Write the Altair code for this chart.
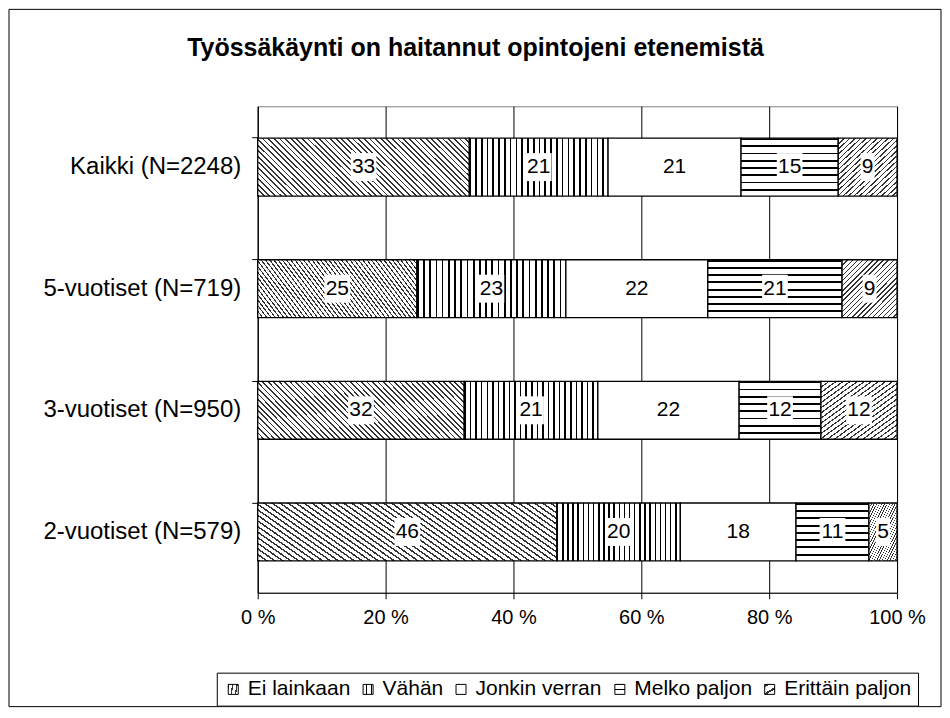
import altair as alt
import pandas as pd

# ---------------- data ----------------
groups = ["Kaikki (N=2248)", "5-vuotiset (N=719)", "3-vuotiset (N=950)", "2-vuotiset (N=579)"]
responses = ["Ei lainkaan", "Vähän", "Jonkin verran", "Melko paljon", "Erittäin paljon"]

kaikki = [33.1, 21.7, 20.8, 15.2, 9.2]
vuotiset5 = [24.9, 23.3, 22.2, 21.0, 8.6]
vuotiset3 = [32.3, 20.9, 22.1, 12.8, 11.9]
vuotiset2 = [46.8, 19.3, 18.1, 11.4, 4.4]

labels_kaikki = ["33", "21", "21", "15", "9"]
labels_5 = ["25", "23", "22", "21", "9"]
labels_3 = ["32", "21", "22", "12", "12"]
labels_2 = ["46", "20", "18", "11", "5"]

title_text = "Työssäkäynti on haitannut opintojeni etenemistä"

rows = []
for g, vals, labs in zip(groups, [kaikki, vuotiset5, vuotiset3, vuotiset2],
                         [labels_kaikki, labels_5, labels_3, labels_2]):
    for i, (r, v, l) in enumerate(zip(responses, vals, labs)):
        rows.append({"group": g, "response": r, "share": v, "label": l, "order": i})
df = pd.DataFrame(rows)

FONT = "Liberation Sans"


# ------------- hatch patterns as striped gradients -------------
def stripes(n, frac, x1, y1, x2, y2, ink="black", paper="white"):
    stops = []
    for i in range(n):
        a = i / n
        b = (i + frac) / n
        c = (i + 1) / n
        stops += [(a, ink), (b, ink), (b, paper), (c, paper)]
    s = ",".join("{offset:%.5f,color:'%s'}" % (o, col) for o, col in stops)
    return {"expr": "{gradient:'linear',x1:%g,y1:%g,x2:%g,y2:%g,stops:[%s]}" % (x1, y1, x2, y2, s)}


pat_ei = stripes(48, 0.32, 0, 1, 1.186, 0.673, ink="#333333")   # "\" dense diagonal
pat_vahan = stripes(24, 0.28, 0, 0, 1, 0)                        # vertical lines
pat_jonkin = "white"
pat_melko = stripes(8, 0.26, 0, 0, 0, 1)                         # horizontal lines
pat_eritt = stripes(22, 0.28, 0, 0, 0.976, 1.025, ink="#333333") # "/" diagonal

fill_scale = alt.Scale(domain=responses,
                       range=[pat_ei, pat_vahan, pat_jonkin, pat_melko, pat_eritt])

base = alt.Chart(df).transform_stack(
    stack="share", groupby=["group"], as_=["x0", "x1"],
    sort=[alt.SortField("order", order="ascending")], offset="normalize"
).transform_calculate(mid="(datum.x0 + datum.x1) / 2")

y_enc = alt.Y(
    "group:N", sort=groups, title=None,
    scale=alt.Scale(paddingInner=0.524, paddingOuter=0.262),
    axis=alt.Axis(bandPosition=0, domainColor="black", tickColor="black", tickSize=6,
                  labelFont=FONT, labelFontSize=24, labelColor="black", labelPadding=11,
                  labelLimit=400, grid=False),
)

bars = base.mark_bar(stroke="black", strokeWidth=1.3, opacity=1).encode(
    y=y_enc,
    x=alt.X("x0:Q", title=None, scale=alt.Scale(domain=[0, 1], nice=False),
            axis=alt.Axis(values=[0, 0.2, 0.4, 0.6, 0.8, 1.0],
                          labelExpr="round(datum.value*100) + ' %'",
                          labelFlush=False,
                          grid=True, gridColor="black", gridWidth=1, gridOpacity=1,
                          domainColor="black", tickColor="black", tickSize=6,
                          labelFont=FONT, labelFontSize=20, labelColor="black",
                          labelPadding=9)),
    x2="x1:Q",
    fill=alt.Fill("response:N", scale=fill_scale, sort=responses,
                  legend=alt.Legend(
                      title=None, orient="none", legendX=-41, legendY=567,
                      direction="horizontal", columns=5,
                      symbolType="square", symbolSize=100,
                      symbolStrokeColor="black", symbolStrokeWidth=1, symbolOpacity=1,
                      labelFont=FONT, labelFontSize=21, labelColor="black",
                      labelOffset=4, columnPadding=7,
                      strokeColor="black", fillColor="white", padding=6)),
)

box2 = base.transform_filter("length(datum.label) > 1").mark_point(
    shape="M-0.46,-0.5L0.46,-0.5L0.46,0.5L-0.46,0.5Z",
    filled=True, fill="white", opacity=1, strokeWidth=0, size=3136
).encode(y=alt.Y("group:N", sort=groups), x="mid:Q")

box1 = base.transform_filter("length(datum.label) == 1").mark_point(
    shape="M-0.25,-0.5L0.25,-0.5L0.25,0.5L-0.25,0.5Z",
    filled=True, fill="white", opacity=1, strokeWidth=0, size=3136
).encode(y=alt.Y("group:N", sort=groups), x="mid:Q")

texts = base.mark_text(font=FONT, fontSize=21, color="black", baseline="middle",
                       align="center").encode(
    y=alt.Y("group:N", sort=groups), x="mid:Q", text="label:N")

title = alt.Chart(pd.DataFrame({"t": [title_text]})).mark_text(
    font=FONT, fontSize=25, fontWeight="bold", color="black",
    align="center", baseline="middle"
).encode(text="t:N", x=alt.value(218), y=alt.value(-58))

frame = alt.Chart(pd.DataFrame({"a": [0]})).mark_rect(
    fill="transparent", stroke="black", strokeWidth=1
).encode(x=alt.value(-249), x2=alt.value(684), y=alt.value(-97), y2=alt.value(601))

chart = alt.layer(frame, bars, box2, box1, texts, title).properties(
    width=640, height=487, padding=0, background="white"
).configure_view(stroke="#808080", strokeWidth=1)

chart.save("out.html", embed_options={"renderer": "svg", "actions": False})
